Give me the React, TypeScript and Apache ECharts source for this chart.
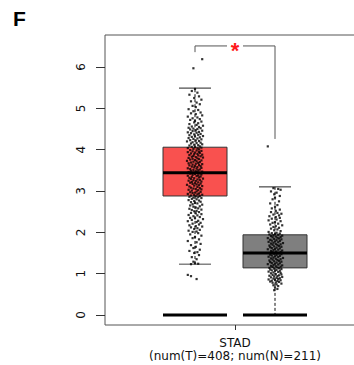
import React, { useEffect, useRef } from "react";
import * as echarts from "echarts";

const yTickValues = [0, 1, 2, 3, 4, 5, 6];
const xTickValues = [1.5];
const cancerType = "STAD";
const groupCounts = { T: 408, N: 211 };
const groupPositions = [1, 2];
// [low whisker, Q1, median, Q3, high whisker]
const tumorStats = [1.23, 2.88, 3.44, 4.06, 5.49];
const normalStats = [0, 1.14, 1.5, 1.94, 3.1];
const zeroBars = [0, 0];
const bracket = { left: 6.36, top: 6.51, right: 4.26 };

// [jitter, value]
const tumorPoints: [number, number][] = [
  [0.09, 6.19], [-0.02, 5.97],
  [0.0, 5.47], [-0.04, 5.42], [0.03, 5.38], [-0.07, 5.33], [0.05, 5.29], [-0.01, 5.25], [0.08, 5.21], [-0.05, 5.17], [0.02, 5.14], [0.06, 5.1], [-0.03, 5.06], [0.01, 5.03],
  [-0.08, 4.98], [0.04, 4.96], [-0.02, 4.93], [0.07, 4.9], [-0.05, 4.88], [0.01, 4.86], [0.09, 4.83], [-0.09, 4.8], [0.03, 4.78], [-0.03, 4.76], [0.06, 4.74], [-0.06, 4.72], [0.0, 4.7], [0.08, 4.68], [-0.01, 4.66], [0.04, 4.64], [-0.07, 4.62], [0.02, 4.6], [0.1, 4.58], [-0.04, 4.56], [0.05, 4.55], [-0.08, 4.53], [0.07, 4.52], [-0.02, 4.51], [0.03, 4.5],
  [-0.06, 4.49], [0.01, 4.47], [0.09, 4.46], [-0.03, 4.45], [0.05, 4.43], [-0.09, 4.42], [0.02, 4.41], [-0.05, 4.4], [0.07, 4.38], [-0.01, 4.37], [0.04, 4.36], [-0.07, 4.35], [0.1, 4.33], [0.0, 4.32], [-0.04, 4.31], [0.06, 4.3], [-0.08, 4.28], [0.03, 4.27], [-0.02, 4.26], [0.08, 4.25], [-0.06, 4.23], [0.01, 4.22], [0.05, 4.21], [-0.1, 4.2], [-0.03, 4.18], [0.07, 4.17], [0.02, 4.16], [-0.05, 4.15], [0.09, 4.13], [-0.01, 4.12], [0.04, 4.11], [-0.07, 4.1], [0.06, 4.08], [-0.04, 4.07], [0.0, 4.06], [0.08, 4.05], [-0.09, 4.04], [0.03, 4.03], [-0.02, 4.02], [0.05, 4.01],
  [-0.06, 3.99], [0.02, 3.98], [0.08, 3.97], [-0.03, 3.96], [0.05, 3.95], [-0.09, 3.94], [0.0, 3.93], [0.06, 3.92], [-0.05, 3.91], [0.03, 3.9], [-0.01, 3.89], [0.09, 3.88], [-0.07, 3.87], [0.04, 3.86], [-0.02, 3.85], [0.07, 3.84], [-0.04, 3.83], [0.01, 3.82], [0.1, 3.81], [-0.08, 3.8], [0.03, 3.79], [-0.03, 3.78], [0.05, 3.77], [-0.06, 3.76], [0.0, 3.75], [0.08, 3.74], [-0.1, 3.73], [0.02, 3.72], [-0.02, 3.71], [0.06, 3.7], [-0.05, 3.69], [0.04, 3.68], [-0.08, 3.67], [0.01, 3.66], [0.09, 3.65], [-0.03, 3.64], [0.05, 3.63], [-0.07, 3.62], [0.0, 3.61], [0.07, 3.6], [-0.04, 3.59], [0.03, 3.58], [-0.01, 3.57], [0.08, 3.56], [-0.09, 3.55], [0.02, 3.54], [-0.06, 3.53], [0.06, 3.52], [-0.02, 3.51], [0.04, 3.5],
  [-0.05, 3.49], [0.01, 3.48], [0.09, 3.47], [-0.08, 3.46], [0.03, 3.45], [-0.02, 3.44], [0.06, 3.43], [-0.06, 3.42], [0.0, 3.41], [0.08, 3.4], [-0.03, 3.39], [0.04, 3.38], [-0.09, 3.37], [0.02, 3.36], [0.07, 3.35], [-0.04, 3.34], [0.05, 3.33], [-0.07, 3.32], [-0.01, 3.31], [0.1, 3.3], [-0.05, 3.29], [0.03, 3.28], [0.06, 3.27], [-0.02, 3.26], [-0.08, 3.25], [0.01, 3.24], [0.08, 3.23], [-0.04, 3.22], [0.04, 3.21], [-0.06, 3.2], [0.0, 3.19], [0.07, 3.18], [-0.03, 3.17], [0.02, 3.16], [-0.1, 3.15], [0.05, 3.14], [-0.01, 3.13], [0.09, 3.12], [-0.07, 3.11], [0.03, 3.1], [-0.05, 3.08], [0.06, 3.07], [-0.02, 3.06], [0.01, 3.05], [0.08, 3.04], [-0.08, 3.03], [0.04, 3.02], [-0.04, 3.01],
  [0.02, 2.99], [0.07, 2.98], [-0.06, 2.97], [0.0, 2.96], [-0.03, 2.95], [0.05, 2.94], [-0.09, 2.93], [0.03, 2.92], [0.09, 2.91], [-0.01, 2.9], [-0.05, 2.89], [0.06, 2.88], [0.01, 2.87], [-0.07, 2.86], [0.04, 2.85], [-0.02, 2.84], [0.08, 2.83], [-0.04, 2.81], [0.02, 2.8], [-0.08, 2.78], [0.05, 2.77], [-0.01, 2.76], [0.07, 2.74], [-0.05, 2.73], [0.0, 2.71], [0.03, 2.7], [-0.03, 2.68], [0.09, 2.67], [-0.06, 2.65], [0.06, 2.63], [-0.02, 2.62], [0.01, 2.6], [0.04, 2.58], [-0.07, 2.57], [0.08, 2.55], [-0.04, 2.54], [0.02, 2.52], [-0.01, 2.51],
  [0.05, 2.49], [-0.05, 2.47], [0.01, 2.46], [0.08, 2.44], [-0.08, 2.42], [0.03, 2.41], [-0.02, 2.39], [0.06, 2.37], [-0.06, 2.35], [0.0, 2.34], [0.1, 2.32], [-0.04, 2.3], [0.04, 2.28], [-0.09, 2.27], [0.02, 2.25], [0.07, 2.23], [-0.03, 2.21], [0.05, 2.19], [-0.07, 2.17], [0.01, 2.15], [0.09, 2.14], [-0.05, 2.12], [0.03, 2.1], [-0.01, 2.08], [0.06, 2.06], [-0.08, 2.04], [0.02, 2.02], [-0.03, 2.01],
  [0.04, 1.98], [-0.06, 1.95], [0.08, 1.92], [0.0, 1.89], [-0.03, 1.86], [0.05, 1.83], [-0.09, 1.79], [0.02, 1.76], [0.07, 1.72], [-0.05, 1.69], [0.01, 1.65], [-0.02, 1.62], [0.06, 1.58], [-0.07, 1.55], [0.03, 1.52], [-0.01, 1.5],
  [0.05, 1.45], [-0.04, 1.4], [0.02, 1.35], [-0.02, 1.29], [0.0, 1.25], [0.04, 1.24], [-0.05, 1.23],
  [-0.09, 0.97], [-0.05, 0.94], [0.02, 0.87],
];

const normalPoints: [number, number][] = [
  [-0.09, 4.08],
  [-0.02, 3.07], [0.04, 3.05], [0.07, 3.03], [-0.05, 2.99], [0.02, 2.96], [-0.01, 2.92], [0.06, 2.88], [0.0, 2.84], [-0.03, 2.8], [0.05, 2.75], [-0.06, 2.7], [0.03, 2.66], [0.0, 2.62], [-0.04, 2.58], [0.06, 2.55], [0.01, 2.52],
  [-0.05, 2.49], [0.03, 2.47], [0.08, 2.45], [-0.02, 2.43], [0.05, 2.41], [-0.07, 2.39], [0.01, 2.37], [0.06, 2.35], [-0.04, 2.33], [0.02, 2.31], [-0.08, 2.29], [0.07, 2.27], [0.0, 2.25], [-0.03, 2.23], [0.04, 2.21], [-0.06, 2.19], [0.09, 2.17], [0.01, 2.15], [-0.02, 2.13], [0.05, 2.11], [-0.05, 2.09], [0.03, 2.07], [-0.01, 2.05], [0.07, 2.03], [-0.08, 2.01],
  [0.02, 1.99], [-0.04, 1.98], [0.06, 1.97], [0.0, 1.96], [-0.07, 1.95], [0.04, 1.94], [-0.02, 1.93], [0.09, 1.92], [-0.05, 1.91], [0.01, 1.9], [0.07, 1.89], [-0.03, 1.88], [0.03, 1.87], [-0.09, 1.86], [0.05, 1.85], [-0.01, 1.84], [0.08, 1.83], [-0.06, 1.82], [0.02, 1.81], [-0.04, 1.8], [0.06, 1.79], [0.0, 1.78], [-0.08, 1.77], [0.04, 1.76], [-0.02, 1.75], [0.1, 1.74], [-0.05, 1.73], [0.01, 1.72], [0.07, 1.71], [-0.03, 1.7], [0.03, 1.69], [-0.07, 1.68], [0.05, 1.67], [-0.01, 1.66], [0.08, 1.65], [-0.06, 1.64], [0.02, 1.63], [-0.04, 1.62], [0.06, 1.61], [0.0, 1.6], [-0.09, 1.59], [0.04, 1.58], [-0.02, 1.57], [0.09, 1.56], [-0.05, 1.55], [0.01, 1.54], [0.07, 1.53], [-0.03, 1.52], [0.03, 1.51], [-0.07, 1.5],
  [0.05, 1.49], [-0.01, 1.48], [0.08, 1.47], [-0.06, 1.46], [0.02, 1.45], [-0.04, 1.44], [0.06, 1.43], [0.0, 1.42], [-0.08, 1.41], [0.04, 1.4], [-0.02, 1.39], [0.1, 1.38], [-0.05, 1.37], [0.01, 1.36], [0.07, 1.35], [-0.03, 1.34], [0.03, 1.33], [-0.07, 1.32], [0.05, 1.31], [-0.01, 1.3], [0.08, 1.29], [-0.06, 1.28], [0.02, 1.27], [-0.04, 1.26], [0.06, 1.25], [0.0, 1.24], [-0.09, 1.23], [0.04, 1.22], [-0.02, 1.21], [0.09, 1.2], [-0.05, 1.19], [0.01, 1.18], [0.07, 1.17], [-0.03, 1.16], [0.03, 1.15], [-0.07, 1.14], [0.05, 1.13], [-0.01, 1.12], [0.08, 1.11], [-0.06, 1.1], [0.02, 1.09], [-0.04, 1.08], [0.06, 1.07], [0.0, 1.06], [-0.08, 1.05], [0.04, 1.04], [-0.02, 1.03], [0.07, 1.02], [-0.05, 1.01],
  [0.01, 0.99], [0.08, 0.98], [-0.03, 0.97], [0.05, 0.96], [-0.07, 0.95], [0.03, 0.94], [-0.01, 0.93], [0.09, 0.92], [-0.05, 0.91], [0.02, 0.9], [0.06, 0.89], [-0.02, 0.88], [0.04, 0.87], [-0.08, 0.86], [0.0, 0.85], [0.07, 0.84], [-0.04, 0.83], [0.03, 0.82], [-0.06, 0.81], [0.05, 0.8], [0.01, 0.79], [-0.03, 0.78], [0.08, 0.76], [0.02, 0.74], [-0.02, 0.72], [0.04, 0.7], [0.0, 0.67], [0.03, 0.63], [-0.01, 0.6],
];

const boxColors = ["#F9514F", "#7F7F7F"];
const FONT = "'Liberation Sans', Arial, sans-serif";
const LABEL_FONT = "'DejaVu Sans', Arial, sans-serif";

export default function App() {
  const ref = useRef<HTMLDivElement>(null);
  useEffect(() => {
    if (!ref.current) return;
    const chart = echarts.init(ref.current, undefined, { renderer: "svg" });
    const BOX_W = 0.8;
    const CAP_W = 0.4;
    const boxData = [
      [groupPositions[0], ...tumorStats],
      [groupPositions[1], ...normalStats],
    ];
    const zeroData = groupPositions.map((p, i) => [p, zeroBars[i]]);
    chart.setOption({
      animation: false,
      title: {
        text: "F",
        left: 8,
        top: 3,
        textStyle: { fontFamily: FONT, fontSize: 21, fontWeight: "bold", color: "#000" },
      },
      grid: {
        left: 105,
        top: 35,
        right: 0,
        bottom: 40,
        show: true,
        borderColor: "#555",
        borderWidth: 1,
        backgroundColor: "transparent",
      },
      xAxis: {
        type: "value",
        min: -0.125,
        max: 3.125,
        splitLine: { show: false },
        axisLine: { show: false, onZero: false },
        axisTick: { show: true, customValues: xTickValues, length: 5, lineStyle: { color: "#333" } },
        axisLabel: {
          customValues: xTickValues,
          formatter: () => `${cancerType}\n(num(T)=${groupCounts.T}; num(N)=${groupCounts.N})`,
          fontFamily: LABEL_FONT,
          fontSize: 12,
          lineHeight: 13,
          color: "#111",
          margin: 11,
        },
      },
      yAxis: {
        type: "value",
        min: -0.242,
        max: 6.775,
        splitLine: { show: false },
        axisLine: { show: false, onZero: false },
        axisTick: { show: true, customValues: yTickValues, length: 9, lineStyle: { color: "#333" } },
        axisLabel: {
          customValues: yTickValues,
          rotate: 90,
          fontFamily: LABEL_FONT,
          fontSize: 12,
          color: "#111",
          margin: 18,
        },
      },
      series: [
        {
          type: "custom",
          encode: { x: 0, y: [1, 2, 3, 4, 5] },
          data: boxData,
          renderItem: (params: any, api: any) => {
            const pos = api.value(0);
            const low = api.value(1);
            const q1 = api.value(2);
            const med = api.value(3);
            const q3 = api.value(4);
            const high = api.value(5);
            const w = api.size([BOX_W, 0])[0];
            const cw = api.size([CAP_W, 0])[0];
            const c = api.coord([pos, med]);
            const pLow = api.coord([pos, low]);
            const pQ1 = api.coord([pos, q1]);
            const pQ3 = api.coord([pos, q3]);
            const pHigh = api.coord([pos, high]);
            const dash = { stroke: "#111", lineWidth: 1, lineDash: [3, 2] };
            return {
              type: "group",
              children: [
                { type: "line", shape: { x1: pQ3[0], y1: pQ3[1], x2: pHigh[0], y2: pHigh[1] }, style: dash },
                { type: "line", shape: { x1: pQ1[0], y1: pQ1[1], x2: pLow[0], y2: pLow[1] }, style: dash },
                { type: "line", shape: { x1: pHigh[0] - cw / 2, y1: pHigh[1], x2: pHigh[0] + cw / 2, y2: pHigh[1] }, style: { stroke: "#222", lineWidth: 1 } },
                { type: "line", shape: { x1: pLow[0] - cw / 2, y1: pLow[1], x2: pLow[0] + cw / 2, y2: pLow[1] }, style: { stroke: "#444", lineWidth: 1 } },
                {
                  type: "rect",
                  shape: { x: c[0] - w / 2, y: pQ3[1], width: w, height: pQ1[1] - pQ3[1] },
                  style: { fill: boxColors[params.dataIndex], stroke: "#333", lineWidth: 1 },
                },
              ],
            };
          },
          z: 2,
        },
        {
          type: "scatter",
          data: tumorPoints.map(([j, v]) => [groupPositions[0] + j, v]),
          symbol: "rect",
          symbolSize: 2.2,
          itemStyle: { color: "#000" },
          z: 3,
        },
        {
          type: "scatter",
          data: normalPoints.map(([j, v]) => [groupPositions[1] + j, v]),
          symbol: "rect",
          symbolSize: 2.2,
          itemStyle: { color: "#000" },
          z: 3,
        },
        {
          type: "custom",
          encode: { x: 0, y: [1, 2, 3, 4, 5] },
          data: boxData,
          renderItem: (params: any, api: any) => {
            const pos = api.value(0);
            const med = api.value(3);
            const w = api.size([BOX_W, 0])[0];
            const c = api.coord([pos, med]);
            return {
              type: "line",
              shape: { x1: c[0] - w / 2, y1: c[1], x2: c[0] + w / 2, y2: c[1] },
              style: { stroke: "#000", lineWidth: 3 },
            };
          },
          z: 4,
        },
        {
          type: "custom",
          encode: { x: 0, y: 1 },
          data: zeroData,
          renderItem: (params: any, api: any) => {
            const w = api.size([BOX_W, 0])[0];
            const c = api.coord([api.value(0), api.value(1)]);
            return {
              type: "line",
              shape: { x1: c[0] - w / 2, y1: c[1], x2: c[0] + w / 2, y2: c[1] },
              style: { stroke: "#000", lineWidth: 3 },
            };
          },
          z: 4,
        },
        {
          type: "custom",
          data: [[groupPositions[0], groupPositions[1], bracket.left, bracket.top, bracket.right]],
          encode: { x: [0, 1], y: [2, 3, 4] },
          renderItem: (params: any, api: any) => {
            const a = api.coord([api.value(0), api.value(2)]);
            const b = api.coord([api.value(0), api.value(3)]);
            const cpt = api.coord([api.value(1), api.value(3)]);
            const d = api.coord([api.value(1), api.value(4)]);
            const mid = (b[0] + cpt[0]) / 2;
            const st = { stroke: "#555", lineWidth: 1 };
            return {
              type: "group",
              children: [
                { type: "polyline", shape: { points: [a, b, [mid - 8, b[1]]] }, style: { ...st, fill: "none" } },
                { type: "polyline", shape: { points: [[mid + 8, cpt[1]], cpt, d] }, style: { ...st, fill: "none" } },
                {
                  type: "text",
                  x: mid,
                  y: b[1] + 5,
                  style: {
                    text: "*",
                    fill: "#FF1A1A",
                    fontSize: 22,
                    fontWeight: "bold",
                    fontFamily: FONT,
                    align: "center",
                    verticalAlign: "middle",
                  },
                },
              ],
            };
          },
          z: 5,
        },
      ],
    });
    return () => chart.dispose();
  }, []);
  return (
    <div style={{ position: "fixed", left: 0, top: 0, width: 354, height: 365, overflow: "hidden", background: "#fff" }}>
      <div ref={ref} style={{ width: 365, height: 365 }} />
    </div>
  );
}
